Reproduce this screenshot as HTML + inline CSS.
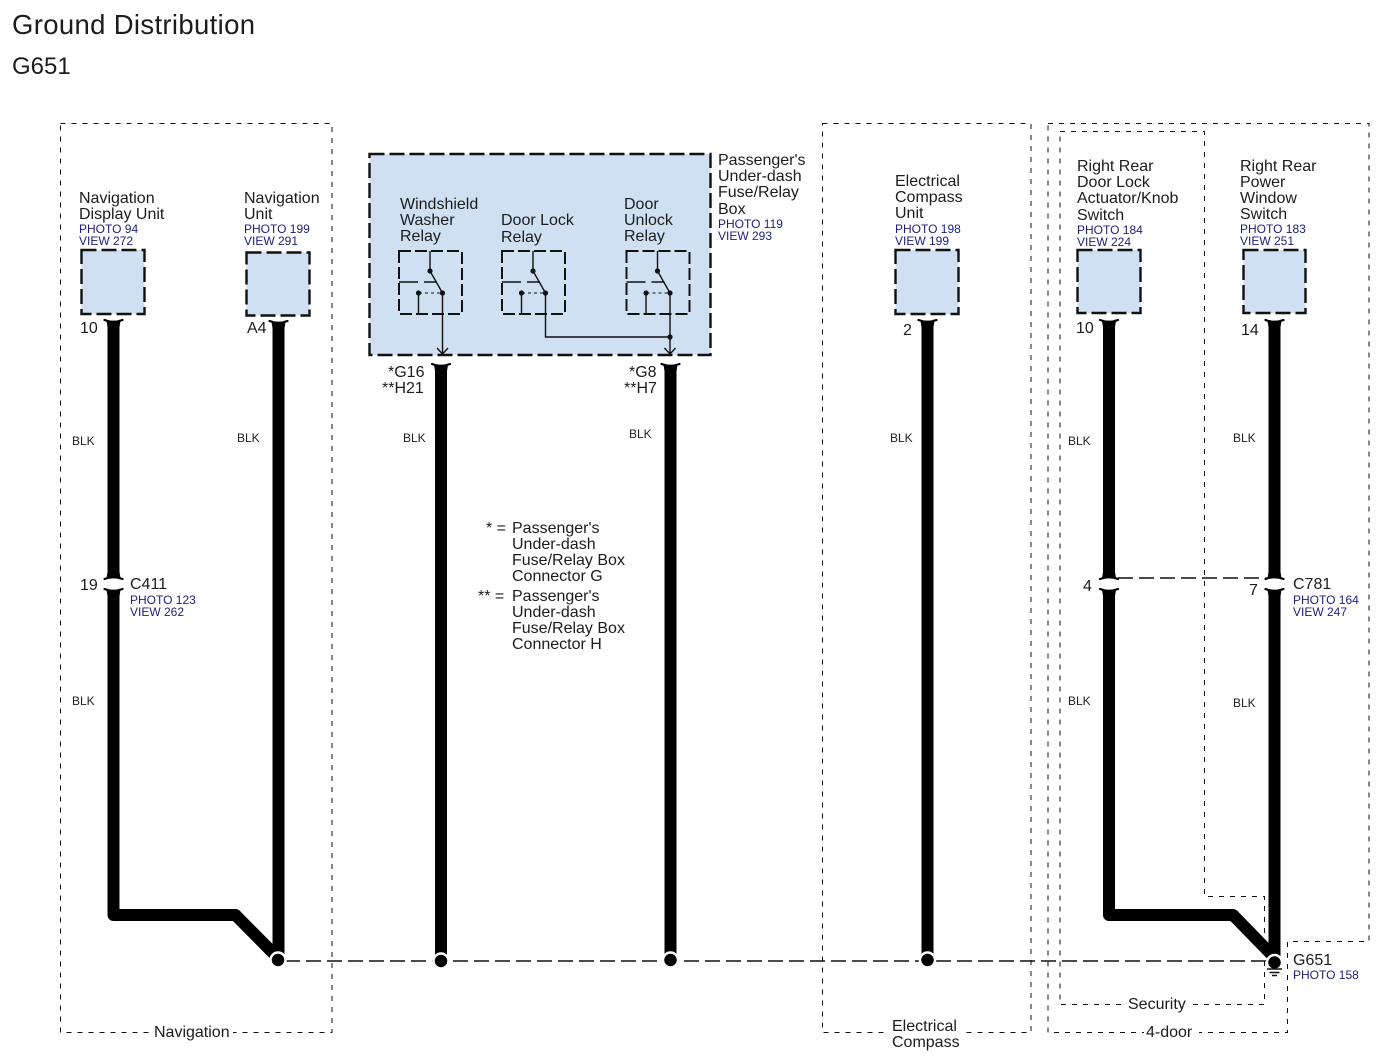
<!DOCTYPE html>
<html><head><meta charset="utf-8"><title>Ground Distribution G651</title>
<style>
html,body{margin:0;padding:0;background:#fff;width:1382px;height:1062px;overflow:hidden}
svg{display:block}
text{font-family:"Liberation Sans",Arial,sans-serif;font-size:16px;fill:#1c1c1c}
.b{font-size:12px;fill:#1d1d78}
.k{font-size:12px;fill:#222}
.t{fill:none;stroke:#111;stroke-width:1;stroke-dasharray:5 6}
.s{fill:#cfe0f3;stroke:#111;stroke-width:2.4;stroke-dasharray:15 5}
.w{fill:none;stroke:#000;stroke-width:12;stroke-linejoin:round;stroke-linecap:butt}
.l{fill:none;stroke:#111;stroke-width:1.4}
.d{fill:none;stroke:#111;stroke-width:1.4;stroke-dasharray:15 6}
.m{fill:none;stroke:#000;stroke-width:2.2;stroke-linecap:round}
</style></head><body>
<svg width="1382" height="1062" viewBox="0 0 1382 1062" xmlns="http://www.w3.org/2000/svg">
<defs>
<g id="capT"><path class="m" d="M-9,0 Q0,3.5 9,0"/><path d="M-7,1 Q0,3.5 7,1 L6,7 L-6,7Z" fill="#000"/></g>
<g id="capB"><path class="m" d="M-9,0 Q0,-3.5 9,0"/><path d="M-7,-1 Q0,-3.5 7,-1 L6,-7 L-6,-7Z" fill="#000"/></g>
<g id="relay">
<rect class="s" style="stroke-width:2;stroke-dasharray:12 4" x="0" y="0" width="63" height="63"/>
<path class="l" d="M31,0V20M31,20L43.5,42M0,31H19M25,31H38M19.500,63V42"/>
<path class="l" style="stroke-dasharray:3 3;stroke-width:1" d="M20,42H43"/>
<circle cx="31" cy="20" r="2.600" fill="#111"/><circle cx="19.500" cy="42" r="2.600" fill="#111"/><circle cx="43.500" cy="42" r="2.600" fill="#111"/>
</g>
</defs>

<text x="12" y="34" style="font-size:27.500px" textLength="243">Ground Distribution</text>
<text x="12" y="74" style="font-size:24px">G651</text>

<!-- group boxes -->
<path class="t" d="M60.500,123.500H332V1032.500H60.500Z"/>
<path class="t" d="M822.500,123.500H1031V1032.500H822.500Z"/>
<path class="t" d="M1048,123.500H1369V941.500H1287.500V1032.500H1048Z"/>
<path class="t" d="M1060,131.500H1204.500V896.500H1264.500V1004.500H1060Z"/>

<rect x="152" y="1020" width="81" height="20" fill="#fff"/>
<text x="154" y="1037">Navigation</text>
<rect x="888" y="1020" width="76" height="36" fill="#fff"/>
<text x="892" y="1031">Electrical</text><text x="892" y="1047">Compass</text>
<rect x="1126" y="995" width="63" height="18" fill="#fff"/>
<text x="1128" y="1009">Security</text>
<rect x="1144" y="1022" width="55" height="18" fill="#fff"/>
<text x="1146" y="1037">4-door</text>

<!-- fuse box -->
<rect class="s" x="369.500" y="154" width="341" height="201"/>
<use href="#relay" x="399" y="251"/>
<use href="#relay" x="502" y="251"/>
<use href="#relay" x="626.500" y="251"/>
<path class="l" d="M442.500,293V353M545.500,293V337H670M670,293V353"/>
<circle cx="670" cy="337" r="2.600" fill="#111"/>
<path class="l" d="M437,348L442.500,354L448,348M664.500,348L670,354L675.500,348"/>

<text x="400" y="209">Windshield</text><text x="400" y="225">Washer</text><text x="400" y="241">Relay</text>
<text x="501" y="225">Door Lock</text><text x="501" y="242">Relay</text>
<text x="624" y="209">Door</text><text x="624" y="225">Unlock</text><text x="624" y="241">Relay</text>
<text x="718" y="165">Passenger's</text><text x="718" y="181">Under-dash</text><text x="718" y="197">Fuse/Relay</text><text x="718" y="214">Box</text>
<text class="b" x="718" y="228">PHOTO 119</text><text class="b" x="718" y="240">VIEW 293</text>

<!-- component boxes -->
<rect class="s" x="81.500" y="250" width="63" height="64"/>
<rect class="s" x="246.500" y="252.500" width="63" height="63"/>
<rect class="s" x="895.500" y="250" width="63" height="64"/>
<rect class="s" x="1077.500" y="250" width="63" height="63"/>
<rect class="s" x="1243.500" y="250" width="62" height="63"/>

<text x="79" y="203">Navigation</text><text x="79" y="219">Display Unit</text>
<text class="b" x="79" y="233">PHOTO 94</text><text class="b" x="79" y="245">VIEW 272</text>
<text x="244" y="203">Navigation</text><text x="244" y="219">Unit</text>
<text class="b" x="244" y="233">PHOTO 199</text><text class="b" x="244" y="245">VIEW 291</text>
<text x="895" y="186">Electrical</text><text x="895" y="202">Compass</text><text x="895" y="218">Unit</text>
<text class="b" x="895" y="233">PHOTO 198</text><text class="b" x="895" y="245">VIEW 199</text>
<text x="1077" y="171">Right Rear</text><text x="1077" y="187">Door Lock</text><text x="1077" y="203">Actuator/Knob</text><text x="1077" y="220">Switch</text>
<text class="b" x="1077" y="234">PHOTO 184</text><text class="b" x="1077" y="246">VIEW 224</text>
<text x="1240" y="171">Right Rear</text><text x="1240" y="187">Power</text><text x="1240" y="203">Window</text><text x="1240" y="219">Switch</text>
<text class="b" x="1240" y="233">PHOTO 183</text><text class="b" x="1240" y="245">VIEW 251</text>

<!-- ground bus -->
<path class="d" d="M285,961H1268"/>
<path class="d" d="M1118,578H1266"/>

<!-- wires -->
<path class="w" d="M113.500,326V578"/>
<path class="w" d="M113.500,590V915H235.500L278,958"/>
<path class="w" d="M278.500,326V958"/>
<path class="w" d="M441,369V958"/>
<path class="w" d="M670.500,369V958"/>
<path class="w" d="M927.500,326V958"/>
<path class="w" d="M1109,326V578"/>
<path class="w" d="M1109,590V915H1233L1274,957"/>
<path class="w" d="M1274.500,326V578"/>
<path class="w" d="M1274.500,590V958"/>

<use href="#capT" x="113.500" y="320"/>
<use href="#capT" x="278.500" y="321"/>
<use href="#capT" x="441" y="364"/>
<use href="#capT" x="670.500" y="364"/>
<use href="#capT" x="927.500" y="320"/>
<use href="#capT" x="1109" y="320"/>
<use href="#capT" x="1274.500" y="320"/>

<use href="#capB" x="113.500" y="579"/><use href="#capT" x="113.500" y="589"/>
<use href="#capB" x="1109" y="579"/><use href="#capT" x="1109" y="589"/>
<use href="#capB" x="1274.500" y="579"/><use href="#capT" x="1274.500" y="589"/>

<!-- splice dots -->
<g fill="#000" stroke="#fff" stroke-width="2.500">
<circle cx="278" cy="960" r="7.500"/>
<circle cx="441" cy="961" r="7.500"/>
<circle cx="670.500" cy="960" r="7.500"/>
<circle cx="927.500" cy="960" r="7.500"/>
<circle cx="1274.500" cy="962.500" r="7.500"/>
</g>
<path class="l" d="M1267,969H1282M1269.500,972.500H1279.500M1272,975.500H1277"/>

<!-- pin labels -->
<text x="80" y="333">10</text>
<text x="247" y="333">A4</text>
<text x="388" y="377">*G16</text><text x="382" y="393">**H21</text>
<text x="629" y="377">*G8</text><text x="624" y="393">**H7</text>
<text x="903" y="335">2</text>
<text x="1076" y="333">10</text>
<text x="1241" y="335">14</text>
<text x="80" y="590">19</text>
<text x="130" y="589">C411</text>
<text class="b" x="130" y="604">PHOTO 123</text><text class="b" x="130" y="616">VIEW 262</text>
<text x="1083" y="591">4</text>
<text x="1249" y="595">7</text>
<text x="1293" y="589">C781</text>
<text class="b" x="1293" y="604">PHOTO 164</text><text class="b" x="1293" y="616">VIEW 247</text>
<text x="1293" y="965">G651</text>
<text class="b" x="1293" y="979">PHOTO 158</text>

<text class="k" x="72" y="445">BLK</text>
<text class="k" x="237" y="442">BLK</text>
<text class="k" x="403" y="442">BLK</text>
<text class="k" x="629" y="438">BLK</text>
<text class="k" x="890" y="442">BLK</text>
<text class="k" x="1068" y="445">BLK</text>
<text class="k" x="1233" y="442">BLK</text>
<text class="k" x="72" y="705">BLK</text>
<text class="k" x="1068" y="705">BLK</text>
<text class="k" x="1233" y="707">BLK</text>

<text x="486" y="533">* =</text>
<text x="512" y="533">Passenger's</text><text x="512" y="549">Under-dash</text><text x="512" y="565">Fuse/Relay Box</text><text x="512" y="581">Connector G</text>
<text x="478" y="601">** =</text>
<text x="512" y="601">Passenger's</text><text x="512" y="617">Under-dash</text><text x="512" y="633">Fuse/Relay Box</text><text x="512" y="649">Connector H</text>
</svg>
</body></html>
